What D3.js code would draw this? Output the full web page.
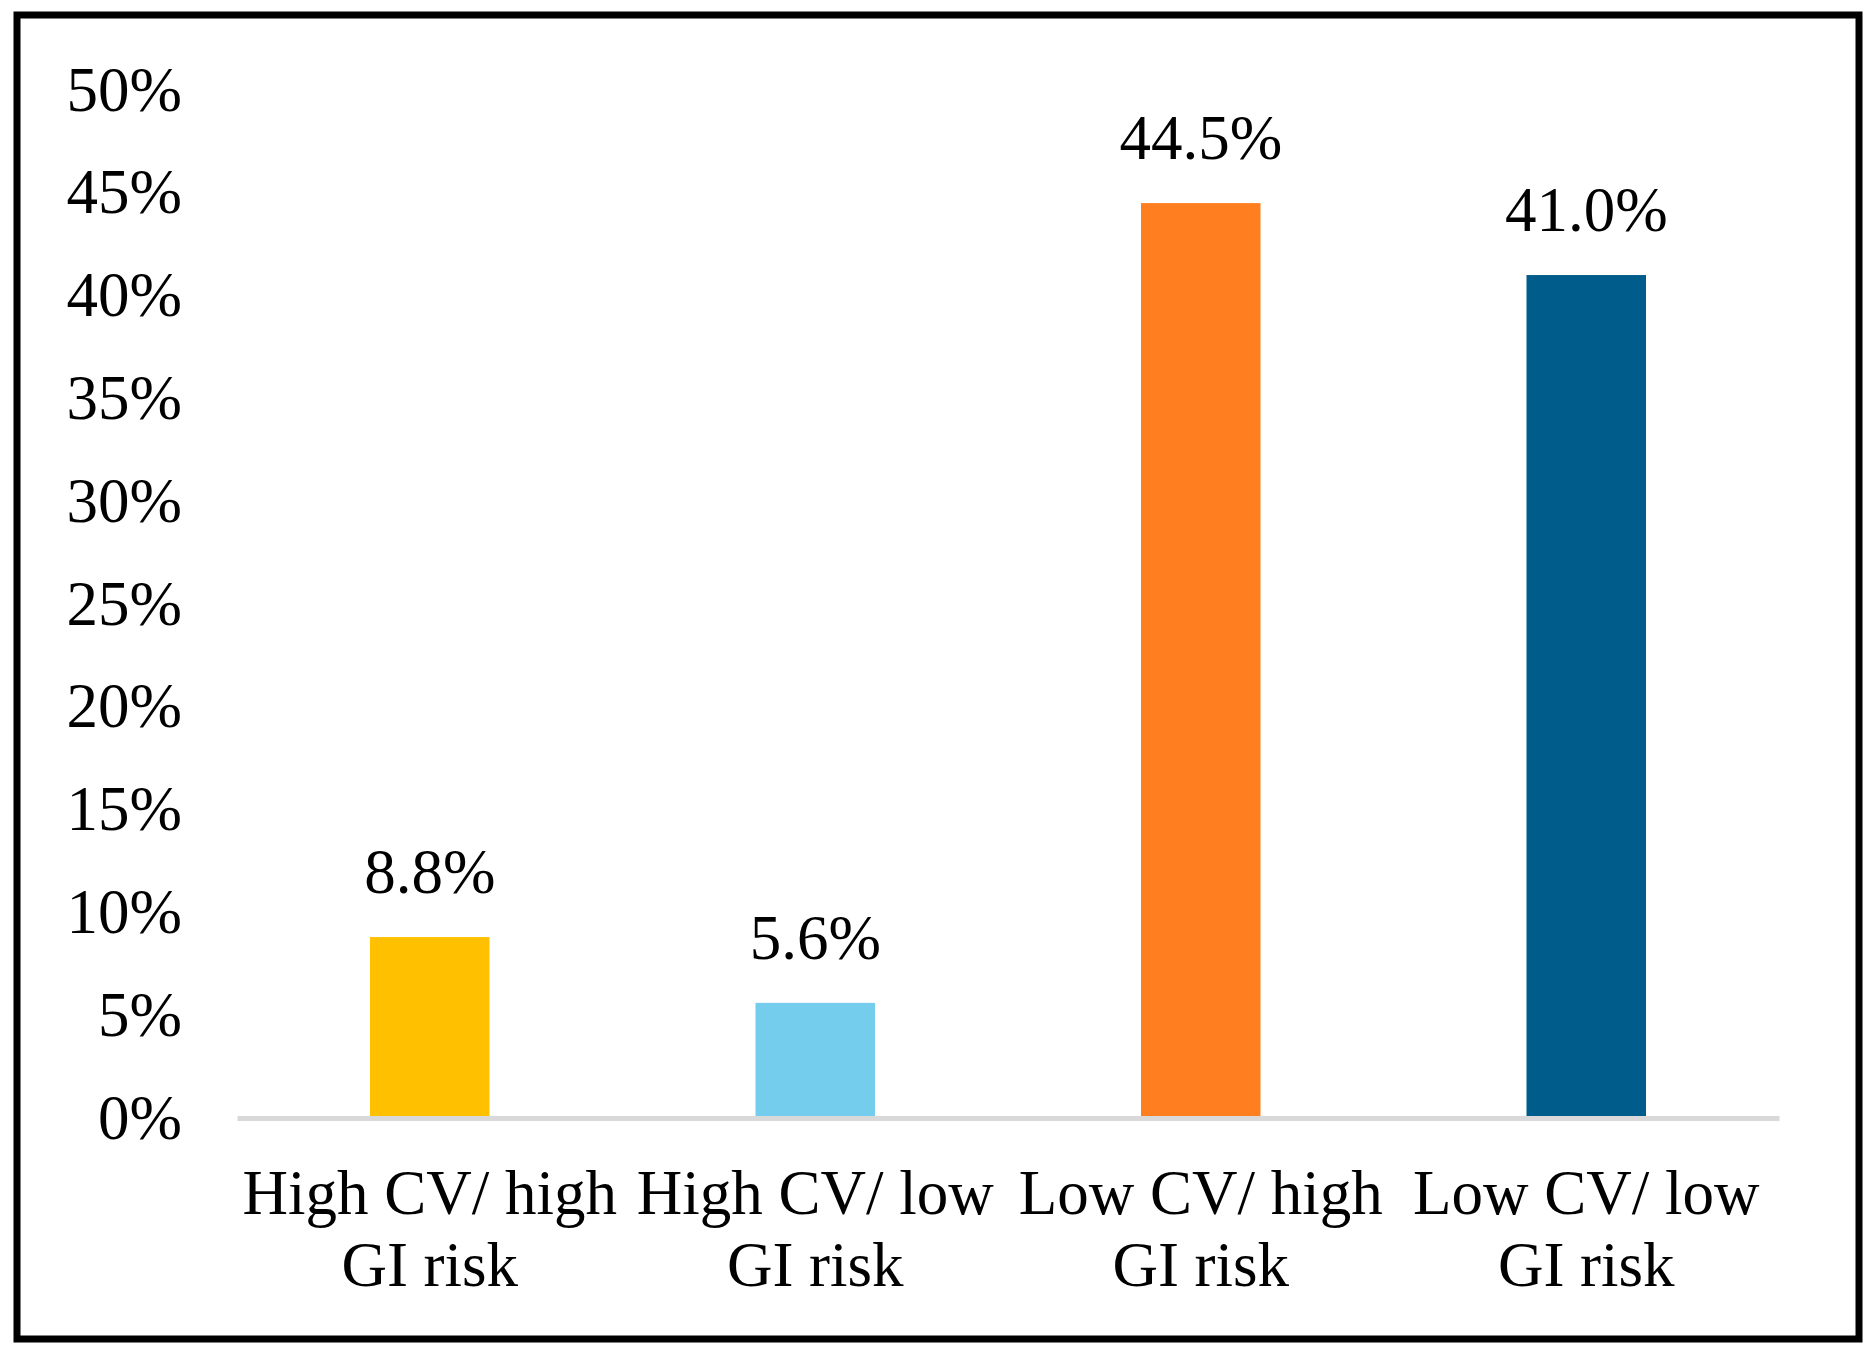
<!DOCTYPE html>
<html>
<head>
<meta charset="utf-8">
<script src="https://cdn.jsdelivr.net/npm/d3@7"></script>
<style>
  body { margin: 0; background: #fff; }
  text { font-family: 'Liberation Serif', 'Times New Roman', serif; fill: #000; }
</style>
</head>
<body>
<script>
const width = 1876;
const height = 1357;

const categories = ['High CV/ high GI risk', 'High CV/ low GI risk', 'Low CV/ high GI risk', 'Low CV/ low GI risk'];
const categoryLines = [['High CV/ high', 'GI risk'], ['High CV/ low', 'GI risk'], ['Low CV/ high', 'GI risk'], ['Low CV/ low', 'GI risk']];
const values = [8.8, 5.6, 44.5, 41.0];
const colors = ['#ffc000', '#75cdee', '#ff7f20', '#005c8a'];
const yTicks = [0, 5, 10, 15, 20, 25, 30, 35, 40, 45, 50];

const margins = { left: 237, right: 97, top: 90, bottom: 239 };

const svg = d3.select('body')
  .append('svg')
    .attr('width', width)
    .attr('height', height);

svg.append('rect')
    .attr('width', width)
    .attr('height', height)
    .attr('fill', '#fff');

// outer frame
svg.append('rect')
    .attr('x', 17)
    .attr('y', 15)
    .attr('width', 1842)
    .attr('height', 1324)
    .attr('fill', 'none')
    .attr('stroke', '#000')
    .attr('stroke-width', 7);

const xScale = d3.scaleBand()
    .domain(categories)
    .range([margins.left, width - margins.right])
    .paddingInner(0.69)
    .paddingOuter(0.345);

const yScale = d3.scaleLinear()
    .domain([0, 50])
    .range([height - margins.bottom, margins.top]);

const yAxis = d3.axisLeft(yScale)
    .tickValues(yTicks)
    .tickFormat(d => `${d}%`)
    .tickSize(0)
    .tickPadding(0);

const yG = svg.append('g')
    .attr('transform', 'translate(182, 0)')
    .call(yAxis);
yG.select('.domain').remove();
yG.selectAll('text')
    .style('font-size', '63px')
    .style('font-family', "'Liberation Serif', serif");

svg.append('g')
  .selectAll('rect')
  .data(values)
  .join('rect')
    .attr('x', (d, i) => xScale(categories[i]))
    .attr('y', d => yScale(d))
    .attr('width', xScale.bandwidth())
    .attr('height', d => yScale(0) - yScale(d))
    .attr('fill', (d, i) => colors[i]);

const xAxis = d3.axisBottom(xScale)
    .tickSize(0)
    .tickFormat('');

const xG = svg.append('g')
    .attr('transform', `translate(0, ${yScale(0)})`)
    .call(xAxis);
xG.select('.domain')
    .attr('stroke', '#d9d9d9')
    .attr('stroke-width', 5);

xG.selectAll('.tick text').remove();
xG.selectAll('.tick')
  .append('text')
    .attr('text-anchor', 'middle')
    .style('font-size', '63px')
    .style('font-family', "'Liberation Serif', serif")
    .attr('fill', '#000')
  .selectAll('tspan')
  .data((d, i) => categoryLines[i])
  .join('tspan')
    .attr('x', 0)
    .attr('y', (d, j) => 96 + j * 72)
    .text(d => d);

// value labels
svg.append('g')
  .selectAll('text')
  .data(values)
  .join('text')
    .attr('x', (d, i) => xScale(categories[i]) + xScale.bandwidth() / 2)
    .attr('y', d => yScale(d) - 44)
    .attr('text-anchor', 'middle')
    .style('font-size', '63px')
    .text(d => `${d.toFixed(1)}%`);
</script>
</body>
</html>
